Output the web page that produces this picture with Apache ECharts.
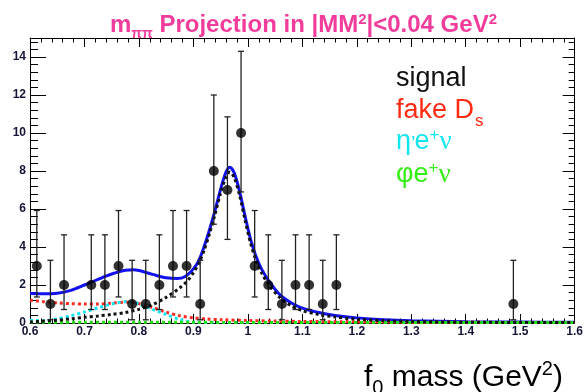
<!DOCTYPE html>
<html><head><meta charset="utf-8">
<script src="https://cdn.jsdelivr.net/npm/echarts@6/dist/echarts.min.js"></script>
<style>html,body{margin:0;padding:0;background:#fff}#c{width:586px;height:392px}</style>
</head><body><div id="c"></div>
<script>
// axis ranges
const xMin = 0.6, xMax = 1.6, xStep = 0.1;
const yMin = 0, yMax = 15, yStep = 2;

// data points (bin centres, counts, asymmetric Poisson error bar ends)
const binCenters = [0.6125,0.6375,0.6625,0.7125,0.7375,0.7625,0.7875,0.8125,0.8375,0.8625,0.8875,0.9125,0.9375,0.9625,0.9875,1.0125,1.0375,1.0625,1.0875,1.1125,1.1375,1.1625,1.4875];
const counts     = [3,1,2,2,2,3,1,1,2,3,3,1,8,7,10,3,2,1,2,2,1,2,1];
const errLow     = [1.37,0.17,0.71,0.71,0.71,1.37,0.17,0.17,0.71,1.37,1.37,0.17,5.2,4.4,6.9,1.37,0.71,0.17,0.71,0.71,0.17,0.71,0.17];
const errHigh    = [5.92,3.3,4.64,4.64,4.64,5.92,3.3,3.3,4.64,5.92,5.92,3.3,12.0,10.85,14.3,5.92,4.64,3.3,4.64,4.64,3.3,4.64,3.3];

// total fit (blue)
const totalX = [0.6,0.625,0.65,0.675,0.7,0.725,0.75,0.775,0.79,0.8,0.825,0.85,0.87,0.885,0.9,0.91,0.92,0.93,0.94,0.95,0.96,0.967,0.975,0.985,0.995,1.005,1.015,1.025,1.04,1.06,1.08,1.1,1.13,1.16,1.2,1.25,1.3,1.4,1.5,1.6];
const totalY = [1.55,1.54,1.57,1.72,2.0,2.3,2.58,2.78,2.8,2.76,2.56,2.38,2.34,2.45,2.85,3.3,4.05,4.95,5.95,7.05,7.95,8.2,7.9,6.9,5.6,4.4,3.5,2.85,2.15,1.45,1.05,0.78,0.55,0.4,0.27,0.17,0.12,0.07,0.05,0.04];
// signal (black dotted)
const signalX = [0.6,0.625,0.65,0.675,0.7,0.725,0.75,0.775,0.8,0.825,0.85,0.875,0.89,0.9,0.91,0.92,0.93,0.94,0.95,0.96,0.967,0.975,0.985,0.995,1.005,1.015,1.025,1.04,1.06,1.08,1.1,1.13,1.16,1.2,1.25,1.3,1.4,1.5,1.6];
const signalY = [0.05,0.1,0.15,0.22,0.3,0.37,0.45,0.55,0.72,0.97,1.35,1.85,2.25,2.65,3.15,3.85,4.75,5.75,6.85,7.7,7.95,7.65,6.7,5.4,4.2,3.3,2.65,1.95,1.3,0.9,0.65,0.45,0.32,0.2,0.12,0.08,0.04,0.03,0.02];
// fake Ds (red dotted)
const fakeX = [0.6,0.625,0.65,0.675,0.7,0.725,0.75,0.775,0.79,0.8,0.825,0.85,0.875,0.9,0.925,0.95,1.0,1.05,1.1,1.2,1.3,1.4,1.5,1.6];
const fakeY = [1.2,1.12,1.06,1.02,1.0,1.0,1.04,1.1,1.08,1.02,0.82,0.57,0.38,0.27,0.21,0.17,0.13,0.1,0.08,0.06,0.045,0.035,0.03,0.025];
// eta' e nu (cyan dotted)
const etaX = [0.6,0.625,0.65,0.675,0.7,0.725,0.75,0.775,0.79,0.8,0.825,0.85,0.875,0.89,0.9,0.95,1.0,1.2,1.4,1.6];
const etaY = [0.15,0.12,0.22,0.38,0.58,0.8,1.0,1.12,1.1,1.0,0.72,0.45,0.18,0.08,0.04,0.02,0.02,0.02,0.02,0.02];
// phi e nu (green dotted)
const phiX = [0.6,0.7,0.8,0.9,1.0,1.2,1.4,1.6];
const phiY = [0.04,0.04,0.04,0.035,0.03,0.025,0.02,0.02];

// text rows
const titleText = ['m','ππ',' Projection in |MM','2','|<0.04 GeV','2'];
const legendSignal = ['signal'];
const legendFake = ['fake D','s'];
const legendEta = ['η','’','e','+','ν'];
const legendPhi = ['φ','e','+','ν'];
const xTitle = ['f','0',' mass (GeV','2',')'];

const FONT = '"Liberation Sans", Arial, sans-serif';
const SERIF = '"Liberation Serif", "Times New Roman", serif';
const chart = echarts.init(document.getElementById('c'), null, {renderer:'canvas'});

const mctx = document.createElement('canvas').getContext('2d');
function measure(t, font){ mctx.font = font; return mctx.measureText(t).width; }
// build a row of text pieces on a common baseline
function row(texts, styles, x0, baseline, fill){
  const out = []; let x = x0;
  texts.forEach((t,i)=>{
    const s = styles[i];
    const font = (s.bold ? 'bold ' : '') + s.size + 'px ' + (s.family || FONT);
    const by = baseline + (s.dy || 0);
    out.push({type:'text', x: x, y: by - 0.3*s.size, silent:true,
      style:{text:t, font:font, fill:fill, verticalAlign:'middle', align:'left'}});
    x += measure(t, font) + (s.gap || 0);
  });
  return out;
}

function pairs(xs, ys){ return xs.map((x,i)=>[x, ys[i]]); }
function dotted(name, xs, ys, color){
  return {type:'line', name, data: pairs(xs, ys), showSymbol:false, smooth:0.3, silent:true,
    lineStyle:{color, width:3, type:[3,3], cap:'butt'}, z:3};
}
const tickLabel = {fontFamily:FONT, fontWeight:'bold', fontSize:12, color:'#15153a'};
const axLine = {show:true, onZero:false, lineStyle:{color:'#000', width:1}};

const PINK = '#f23c9b', RED = '#ff2a12', CYAN = '#14e6f0', GREEN = '#33ee11';
const T = 24, L = 27, X = 30;
let graphics = [];
graphics = graphics.concat(row(titleText,
  [{size:T,bold:true},{size:14,bold:true,dy:5},{size:T,bold:true},{size:15,bold:true,dy:-9},{size:T,bold:true},{size:15,bold:true,dy:-9}],
  110, 33, PINK));
graphics = graphics.concat(row(legendSignal, [{size:L}], 396, 87, '#111'));
graphics = graphics.concat(row(legendFake, [{size:L, gap:1},{size:17,dy:7}], 396, 119, RED));
graphics = graphics.concat(row(legendEta,
  [{size:L},{size:20,gap:-1},{size:L},{size:17,dy:-10},{size:L,family:SERIF}], 396, 150, CYAN));
graphics = graphics.concat(row(legendPhi,
  [{size:L},{size:L},{size:17,dy:-10},{size:L,family:SERIF}], 396, 183, GREEN));
graphics = graphics.concat(row(xTitle,
  [{size:X},{size:20,dy:7},{size:X},{size:20,dy:-12},{size:X}], 364, 387, '#000'));

const option = {
  animation:false,
  backgroundColor:'#fff',
  grid:{left:30, right:3, top:38, bottom:69},
  xAxis:[
    {type:'value', position:'bottom', min:xMin, max:xMax, interval:xStep,
     axisLine:axLine, splitLine:{show:false},
     axisTick:{show:true, inside:true, length:9, lineStyle:{color:'#000'}},
     minorTick:{show:true, splitNumber:5, length:4.5, lineStyle:{color:'#000'}},
     axisLabel:Object.assign({margin:3, formatter:v=>String(+v.toFixed(1))}, tickLabel)},
    {type:'value', position:'top', min:xMin, max:xMax, interval:xStep,
     axisLine:axLine, splitLine:{show:false},
     axisTick:{show:true, inside:true, length:9, lineStyle:{color:'#000'}},
     minorTick:{show:true, splitNumber:5, length:4.5, lineStyle:{color:'#000'}},
     axisLabel:{show:false}}
  ],
  yAxis:[
    {type:'value', position:'left', min:yMin, max:yMax, interval:yStep,
     axisLine:axLine, splitLine:{show:false},
     axisTick:{show:true, inside:true, length:16, lineStyle:{color:'#000'}},
     minorTick:{show:true, splitNumber:5, length:8, lineStyle:{color:'#000'}},
     axisLabel:Object.assign({margin:4, showMaxLabel:false, formatter:v=>String(v)}, tickLabel)},
    {type:'value', position:'right', min:yMin, max:yMax, interval:yStep,
     axisLine:axLine, splitLine:{show:false},
     axisTick:{show:true, inside:true, length:12, lineStyle:{color:'#000'}},
     minorTick:{show:true, splitNumber:5, length:6, lineStyle:{color:'#000'}},
     axisLabel:{show:false}}
  ],
  series:[
    {type:'line', name:'total', data:pairs(totalX,totalY), showSymbol:false, smooth:0.3, silent:true,
     lineStyle:{color:'#1212ee', width:3}, z:2},
    dotted('fake', fakeX, fakeY, '#ff2a20'),
    dotted('eta', etaX, etaY, '#10e4f4'),
    dotted('phi', phiX, phiY, '#22dd11'),
    dotted('signal', signalX, signalY, '#111111'),
    {type:'custom', name:'err', data: binCenters.map((x,i)=>[x, errLow[i], errHigh[i]]),
     encode:{x:0, y:[1,2]}, z:4, silent:true,
     renderItem:function(params, api){
       const x = api.value(0), lo = api.value(1), hi = api.value(2);
       const a = api.coord([x, lo]), b = api.coord([x, hi]);
       const w = 3, st = {stroke:'#222', lineWidth:1.3};
       return {type:'group', children:[
         {type:'line', shape:{x1:a[0], y1:a[1], x2:b[0], y2:b[1]}, style:st},
         {type:'line', shape:{x1:a[0]-w, y1:a[1], x2:a[0]+w, y2:a[1]}, style:st},
         {type:'line', shape:{x1:b[0]-w, y1:b[1], x2:b[0]+w, y2:b[1]}, style:st}
       ]};
     }},
    {type:'scatter', name:'data', data:pairs(binCenters, counts), symbol:'circle', symbolSize:10,
     itemStyle:{color:'#000'}, z:5, silent:true}
  ],
  graphic: graphics
};
chart.setOption(option);
</script></body></html>
